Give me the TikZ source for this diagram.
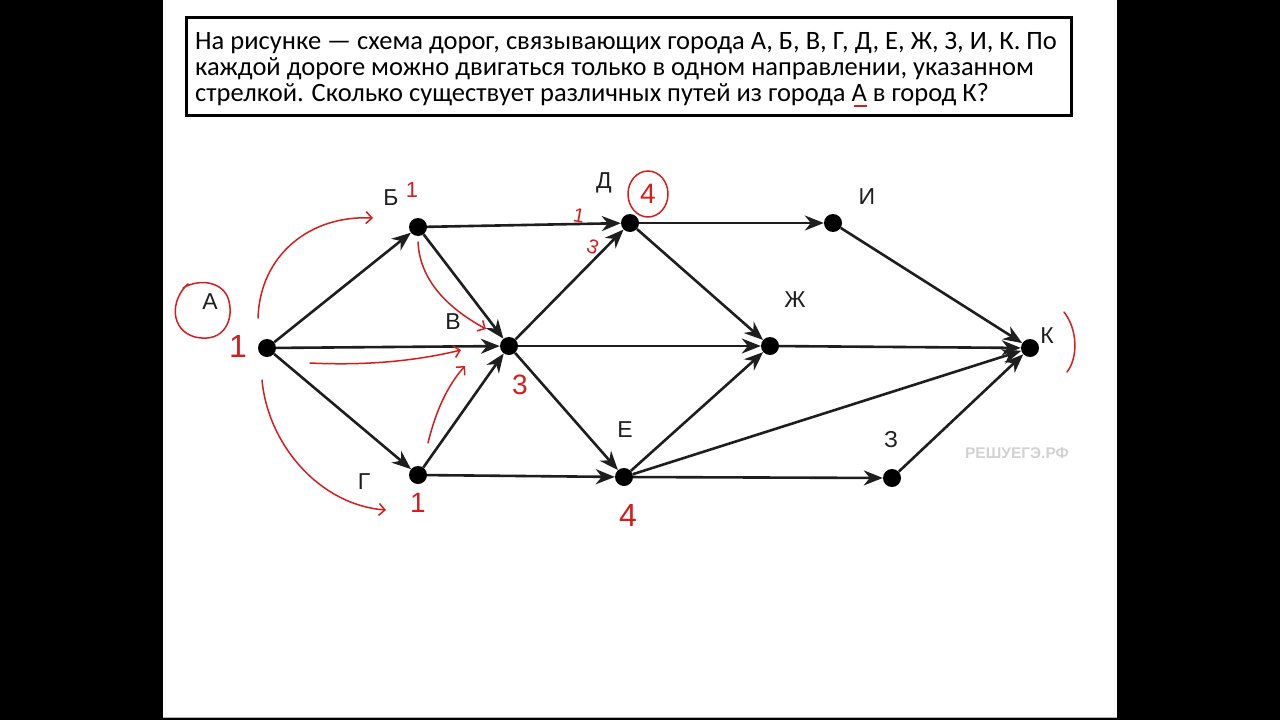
\documentclass[tikz,border=0pt]{standalone}
\usepackage{fontspec}
\setmainfont{Carlito}
\newfontfamily\lbl{Liberation Sans}
\usetikzlibrary{arrows.meta}
\definecolor{ink}{HTML}{1E1E1E}
\definecolor{pen}{HTML}{D41E1E}
\definecolor{wm}{HTML}{D2D2D2}
\begin{document}
\begin{tikzpicture}[x=1pt,y=-1pt,
  city/.style={circle,fill=black,inner sep=0pt,minimum size=18pt},
  road/.style={draw=ink,line width=2.6pt,-{Stealth[length=19pt,width=15pt,inset=6pt]}},
  cname/.style={font=\lbl\fontsize{23}{26}\selectfont,text=ink},
  penline/.style={draw=pen,line width=1.5pt,line cap=round},
  penarr/.style={penline,-{Straight Barb[length=6pt,width=12pt]}},
  num/.style={font=\lbl\fontsize{28}{30}\selectfont,text=pen,inner sep=0pt},
  taskline/.style={anchor=base west,inner sep=0pt,font=\fontsize{26.5}{26}\selectfont}]
\useasboundingbox (0,0) rectangle (1280,720);
\fill[black] (0,0) rectangle (1280,720);
\fill[white] (163,0) rectangle (1117,717);
\draw[gray!60,line width=1pt] (163,717.5) -- (1117,717.5);
% task text
\node[draw=black,line width=2.5pt,minimum width=885pt,minimum height=98pt,anchor=north west,inner sep=0pt] (box) at (185,16) {};
\node[taskline] (t1) at (195,49) {На рисунке — схема дорог, связывающих города А, Б, В, Г, Д, Е, Ж, З, И, К. По};
\node[taskline] (t2) at (195,75) {каждой дороге можно двигаться только в одном направлении, указанном};
\node[taskline] (t3) at (195,101) {стрелкой. Сколько существует различных путей из города \makebox[0pt][l]{\color{pen}\hspace{2pt}\raisebox{-6pt}{\rule{13pt}{1.6pt}}}А в город К?};
% cities
\node[city] (A) at (267,348) {};
\node[city] (B) at (418,227) {};
\node[city] (V) at (509,346) {};
\node[city] (G) at (418,475) {};
\node[city] (D) at (630,223) {};
\node[city] (E) at (624,477) {};
\node[city] (Zh) at (770,346) {};
\node[city] (I) at (833,223) {};
\node[city] (K) at (1030,348) {};
\node[city] (Z) at (892,478) {};
% labels
\node[cname] (lA) at (210,302) {А};
\node[cname] (lB) at (391,198) {Б};
\node[cname] (lV) at (453,322) {В};
\node[cname] (lG) at (364,482) {Г};
\node[cname] (lD) at (604,183) {Д};
\node[cname] (lE) at (625,430) {Е};
\node[cname] (lZh) at (795,300) {Ж};
\node[cname] (lI) at (867,197) {И};
\node[cname] (lK) at (1047,336) {К};
\node[cname] (lZ) at (891,440) {З};
% roads
\draw[road] (A) -- (B);
\draw[road] (A) -- (V);
\draw[road] (A) -- (G);
\draw[road] (B) -- (D);
\draw[road] (B) -- (V);
\draw[road] (G) -- (V);
\draw[road] (G) -- (E);
\draw[road] (V) -- (D);
\draw[road] (V) -- (Zh);
\draw[road] (V) -- (E);
\draw[road] (D) -- (I);
\draw[road] (D) -- (Zh);
\draw[road] (E) -- (Zh);
\draw[road] (E) -- (K);
\draw[road] (E) -- (Z);
\draw[road] (Zh) -- (K);
\draw[road] (I) -- (K);
\draw[road] (Z) -- (K);
% watermark
\node[font=\lbl\bfseries\fontsize{15.5}{17}\selectfont,text=wm] (wmk) at (1017,453) {РЕШУЕГЭ.РФ};
% red handwriting
\draw[penline] (188,284) .. controls (170,300) and (170,330) .. (195,337) .. controls (225,344) and (235,318) .. (228,298) .. controls (222,282) and (200,278) .. (183,288);
\coordinate (aB1) at (258,318);
\coordinate (aB2) at (373,218);
\draw[penarr] (aB1) .. controls (260,255) and (310,215) .. (aB2);
\coordinate (aG1) at (262,380);
\coordinate (aG2) at (386,510);
\draw[penarr] (aG1) .. controls (268,445) and (320,505) .. (aG2);
\coordinate (aV1) at (310,363);
\coordinate (aV2) at (461,350);
\draw[penarr] (aV1) .. controls (370,366) and (420,360) .. (aV2);
\coordinate (bV1) at (418,242);
\coordinate (bV2) at (486,329);
\draw[penarr] (bV1) .. controls (420,285) and (455,312) .. (bV2);
\coordinate (gV1) at (428,443);
\coordinate (gV2) at (465,366);
\draw[penarr] (gV1) .. controls (436,410) and (448,385) .. (gV2);
\node[num,font=\lbl\fontsize{32}{34}\selectfont] (nA) at (238,346) {1};
\node[num,font=\lbl\fontsize{22}{24}\selectfont] (nB) at (412,190) {1};
\node[num,font=\lbl\fontsize{20}{22}\selectfont,rotate=-10] (nD1) at (579,216) {1};
\node[num,font=\lbl\fontsize{20}{22}\selectfont,rotate=-20] (nD3) at (593,247) {3};
\node[num,font=\lbl\fontsize{28}{30}\selectfont] (nD) at (648,194) {4};
\draw[penline] (648,194) ellipse (20pt and 23pt);
\node[num] (nV) at (520,385) {3};
\node[num] (nG) at (418,503) {1};
\node[num,font=\lbl\fontsize{32}{34}\selectfont] (nE) at (628,515) {4};
\draw[penline] (1064,312) .. controls (1078,330) and (1078,358) .. (1067,372);
\end{tikzpicture}
\end{document}
